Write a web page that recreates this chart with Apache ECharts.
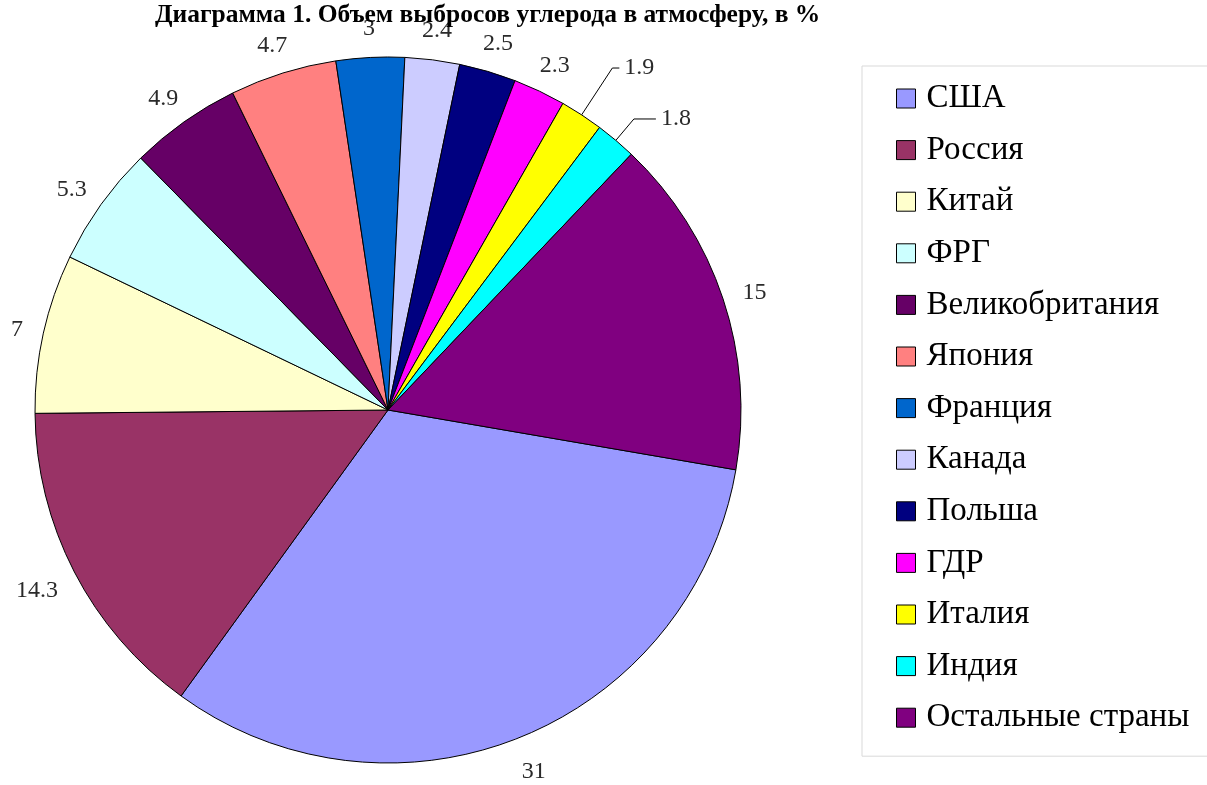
<!DOCTYPE html>
<html>
<head>
<meta charset="utf-8">
<script src="https://cdn.jsdelivr.net/npm/echarts@6/dist/echarts.min.js"></script>
<style>
html,body{margin:0;padding:0;background:#fff;}
#chart{width:1207px;height:785px;}
</style>
</head>
<body>
<div id="chart"></div>
<script>
const titleText = 'Диаграмма 1. Объем выбросов углерода в атмосферу, в %';
const categories = ['США','Россия','Китай','ФРГ','Великобритания','Япония','Франция','Канада','Польша','ГДР','Италия','Индия','Остальные страны'];
const values = [31, 14.3, 7, 5.3, 4.9, 4.7, 3, 2.4, 2.5, 2.3, 1.9, 1.8, 15];
const colors = ['#9999FF','#993366','#FFFFCC','#CCFFFF','#660066','#FF8080','#0066CC','#CCCCFF','#000080','#FF00FF','#FFFF00','#00FFFF','#800080'];
const leaderItems = ['Италия','Индия'];

const CX = 388, CY = 410, R = 353, GAP = 21, TEXT_SHIFT_Y = 4;

const chart = echarts.init(document.getElementById('chart'), null, {renderer:'canvas'});
const data = categories.map((name, i) => {
  const withLine = leaderItems.includes(name);
  return {
    name: name,
    value: values[i],
    itemStyle: {color: colors[i]},
    labelLine: withLine ? {show:true, length: name==='Италия'?56:28, length2: name==='Италия'?7:22, lineStyle:{color:'#000', width:1}} : {show:false}
  };
});

chart.setOption({
  backgroundColor: '#fff',
  title: {
    text: titleText,
    left: 150, top: -3,
    textStyle: {fontFamily: 'Liberation Serif', fontWeight: 'bold', fontSize: 25.5, color: '#000'}
  },
  legend: {
    orient: 'vertical',
    left: 862, top: 66,
    padding: [16, 120, 22, 34],
    itemGap: 18.6,
    itemWidth: 19, itemHeight: 19,
    icon: 'rect',
    borderColor: '#d9d9d9', borderWidth: 1,
    itemStyle: {borderColor: '#000', borderWidth: 1},
    textStyle: {fontFamily: 'Liberation Serif', fontSize: 33, color: '#000', lineHeight: 32, padding:[0,0,0,6]},
    data: categories
  },
  series: [{
    type: 'pie',
    center: [CX, CY],
    radius: R,
    startAngle: -9.76,
    clockwise: true,
    avoidLabelOverlap: false,
    animation: false,
    itemStyle: {borderColor: '#000', borderWidth: 1},
    emphasis: {disabled: true},
    label: {
      show: true, position: 'outside',
      fontFamily: 'Liberation Serif', fontSize: 24, color: '#2a2a2a',
      formatter: p => String(p.value)
    },
    labelLine: {show: false},
    labelLayout: function (params) {
      if (leaderItems.includes(categories[params.dataIndex])) return {};
      const p0 = params.labelLinePoints[0];
      const dx = (p0[0] - CX) / R, dy = (p0[1] - CY) / R;
      const w = params.labelRect.width, h = params.labelRect.height;
      return {
        x: CX + dx * (R + GAP) + dx * w / 2,
        y: CY + dy * (R + GAP) + dy * h / 2 + TEXT_SHIFT_Y,
        align: 'center', verticalAlign: 'middle'
      };
    },
    data: data
  }]
});
</script>
</body>
</html>
